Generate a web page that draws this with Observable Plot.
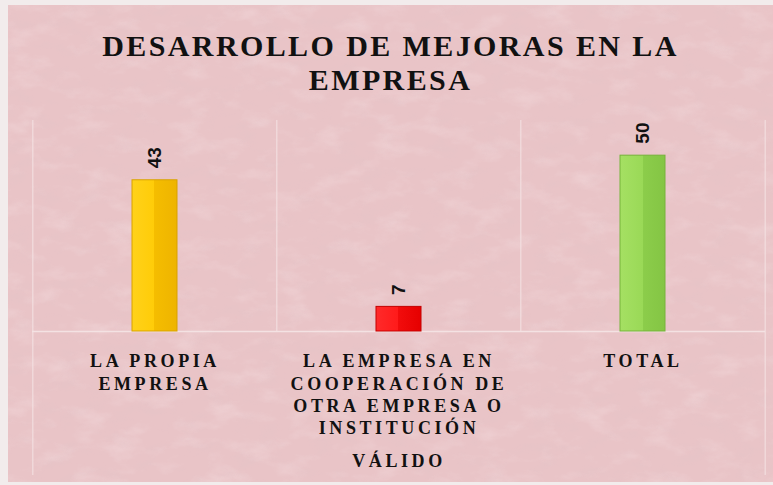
<!DOCTYPE html>
<html>
<head>
<meta charset="utf-8">
<script src="https://cdn.jsdelivr.net/npm/d3@7"></script>
<script src="https://cdn.jsdelivr.net/npm/@observablehq/plot@0.6"></script>
<style>
  html, body { margin: 0; padding: 0; background: #f2ecec; }
  #page { position: relative; width: 773px; height: 485px; overflow: hidden; }
  #panel { position: absolute; left: 8px; top: 5px; width: 765px; height: 477px; background: #e9c4c7; overflow: hidden; }
  #texture { position: absolute; left: 0; top: 0; }
  #title { position: absolute; left: 0; top: 24px; width: 765px; text-align: center;
           font-family: "Liberation Serif", "Times New Roman", serif; font-weight: bold;
           font-size: 30px; line-height: 34px; letter-spacing: 2.4px; color: #111; }
  #chart { position: absolute; left: 0; top: 95px; }
</style>
</head>
<body>
<div id="page">
  <svg width="0" height="0" style="position:absolute">
    <defs>
      <linearGradient id="gYellow" x1="0" x2="1" y1="0" y2="0">
        <stop offset="0" stop-color="#ffd21a"/><stop offset="0.5" stop-color="#ffcc08"/>
        <stop offset="0.5" stop-color="#f5bd00"/><stop offset="1" stop-color="#eeb400"/>
      </linearGradient>
      <linearGradient id="gRed" x1="0" x2="1" y1="0" y2="0">
        <stop offset="0" stop-color="#ff2a2a"/><stop offset="0.5" stop-color="#ff1a1a"/>
        <stop offset="0.5" stop-color="#f20c0c"/><stop offset="1" stop-color="#e60000"/>
      </linearGradient>
      <linearGradient id="gGreen" x1="0" x2="1" y1="0" y2="0">
        <stop offset="0" stop-color="#a5e063"/><stop offset="0.5" stop-color="#9ad957"/>
        <stop offset="0.5" stop-color="#8ccd4b"/><stop offset="1" stop-color="#84c544"/>
      </linearGradient>
    </defs>
  </svg>
  <div id="panel">
    <svg id="texture" width="765" height="477">
      <filter id="noise" x="0" y="0" width="100%" height="100%">
        <feTurbulence type="fractalNoise" baseFrequency="0.03 0.06" numOctaves="4" seed="7"/>
        <feColorMatrix type="matrix" values="0 0 0 0 1  0 0 0 0 0.92  0 0 0 0 0.93  1.4 0 0 0 -0.68"/>
      </filter>
      <filter id="noise2" x="0" y="0" width="100%" height="100%">
        <feTurbulence type="fractalNoise" baseFrequency="0.04 0.08" numOctaves="3" seed="2"/>
        <feColorMatrix type="matrix" values="0 0 0 0 0.72  0 0 0 0 0.55  0 0 0 0 0.58  1.4 0 0 0 -0.68"/>
      </filter>
      <rect width="765" height="477" filter="url(#noise)" opacity="0.35"/>
      <rect width="765" height="477" filter="url(#noise2)" opacity="0.3"/>
    </svg>
    <div id="title"></div>
    <div id="chart"></div>
  </div>
</div>
<script>
const titleLines = ["DESARROLLO DE MEJORAS EN LA", "EMPRESA"];
const categories = ["LA PROPIA EMPRESA", "LA EMPRESA EN COOPERACIÓN DE OTRA EMPRESA O INSTITUCIÓN", "TOTAL"];
const tickLabels = ["LA PROPIA\nEMPRESA", "LA EMPRESA EN\nCOOPERACIÓN DE\nOTRA EMPRESA O\nINSTITUCIÓN", "TOTAL"];
const values = [43, 7, 50];
const axisTitle = "VÁLIDO";
const barFills = ["url(#gYellow)", "url(#gRed)", "url(#gGreen)"];
const barStrokes = ["#d9a200", "#c40000", "#76b33a"];

document.getElementById("title").innerHTML = titleLines.join("<br>");

const data = categories.map((c, i) => ({category: c, value: values[i], fill: barFills[i], stroke: barStrokes[i]}));

const W = 765, H = 382, mL = 24, mR = 8, mT = 20, mB = 151;
const step = (W - mL - mR) / categories.length;
const gridColor = "#f4e2e3";

const chart = Plot.plot({
  width: W, height: H,
  marginLeft: mL, marginRight: mR, marginTop: mT, marginBottom: mB,
  style: {background: "transparent", overflow: "visible"},
  x: {domain: categories, paddingInner: 0.816, paddingOuter: 0.408, axis: null},
  y: {domain: [0, 60], axis: null},
  color: {type: "identity"},
  marks: [
    Plot.ruleX(categories.slice(1), {x: d => d, dx: -step / 2, stroke: gridColor, strokeWidth: 1}),
    Plot.ruleX([categories[0]], {x: d => d, dx: -step / 2, stroke: gridColor, strokeWidth: 1, insetBottom: -144}),
    Plot.ruleX([categories[categories.length - 1]], {x: d => d, dx: step / 2, stroke: gridColor, strokeWidth: 1, insetBottom: -144}),
    Plot.ruleY([0], {stroke: gridColor, strokeWidth: 1.5}),
    Plot.barY(data, {x: "category", y: "value", fill: "fill", stroke: "stroke", strokeWidth: 1}),
    Plot.text(data, {
      x: "category", y: "value", text: d => String(d.value),
      rotate: -90, textAnchor: "start", lineAnchor: "middle", dy: -12,
      fontSize: 19, fontWeight: "bold", fontFamily: "Liberation Sans, Arial, sans-serif", fill: "#111"
    }),
    Plot.axisX({
      tickSize: 0, tickPadding: 20,
      tickFormat: d => tickLabels[categories.indexOf(d)], label: null,
      fontSize: 18, fontWeight: "bold", fontFamily: "Liberation Serif, Times New Roman, serif",
      lineHeight: 1.24, fill: "#111"
    }),
    Plot.text([axisTitle], {
      frameAnchor: "bottom", dy: 130, lineAnchor: "middle",
      fontSize: 18, fontWeight: "bold", fontFamily: "Liberation Serif, Times New Roman, serif", fill: "#111"
    })
  ]
});
d3.select(chart).selectAll("text")
  .filter(function() { return !/^\d+$/.test(this.textContent.trim()); })
  .style("letter-spacing", "3.6px");
document.getElementById("chart").appendChild(chart);
</script>
</body>
</html>
